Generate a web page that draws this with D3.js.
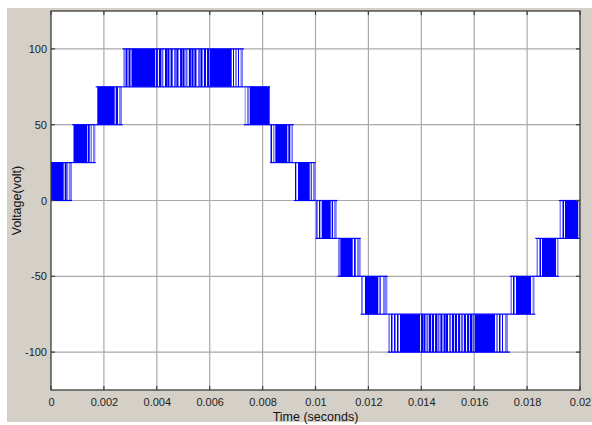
<!DOCTYPE html>
<html><head><meta charset="utf-8">
<script src="https://cdn.jsdelivr.net/npm/d3@7"></script>
<style>body{margin:0;background:#fff}svg{display:block}</style>
</head><body>
<script>
// ---- data (time in milliseconds, voltage in volts) ----
const xTicks = [0, 2, 4, 6, 8, 10, 12, 14, 16, 18, 20];
const xTickLabels = ["0", "0.002", "0.004", "0.006", "0.008", "0.01", "0.012", "0.014", "0.016", "0.018", "0.02"];
const yTicks = [-100, -50, 0, 50, 100];
const yTickLabels = ["-100", "-50", "0", "50", "100"];

const bandEdges = [0, 0.80, 1.69, 2.71, 7.29, 8.28, 9.18, 10.0, 10.83, 11.71, 12.73, 17.35, 18.31, 19.20, 20.0];
const bandLow  = [0, 25, 50, 75, 50, 25, 0, -25, -50, -75, -100, -75, -50, -25];
const bandHigh = [25, 50, 75, 100, 75, 50, 25, 0, -25, -50, -75, -50, -25, 0];

const bandSolid = [
  [[0, 0.480], [0.518, 0.594]],
  [[0.851, 1.372], [1.399, 1.463]],
  [[1.750, 2.408], [2.446, 2.533]],
  [[2.817, 2.892], [2.930, 3.006], [3.043, 3.932], [6.011, 6.832], [6.881, 6.919], [6.975, 7.013], [7.070, 7.108]],
  [[7.429, 7.467], [7.512, 8.268]],
  [[8.299, 8.355], [8.480, 8.934], [8.972, 9.047]],
  [[9.225, 9.274], [9.338, 9.781], [9.819, 9.856]],
  [[10.030, 10.076], [10.132, 10.181], [10.234, 10.575], [10.613, 10.662]],
  [[10.870, 10.907], [10.938, 11.406], [11.456, 11.520]],
  [[11.739, 11.777], [11.871, 12.374], [12.420, 12.465]],
  [[12.854, 12.911], [12.968, 13.025], [13.081, 13.138], [13.195, 13.951], [16.030, 16.786], [16.843, 16.881], [16.938, 16.994], [17.051, 17.089]],
  [[17.467, 17.524], [17.580, 18.147]],
  [[18.469, 18.526], [18.563, 19.093]],
  [[19.338, 19.395], [19.433, 19.924]]
];
const bandLight = [
  [[0.605, 0.643], [0.670, 0.794]],
  [[1.493, 1.550], [1.588, 1.675]],
  [[2.571, 2.684]],
  [[2.733, 2.798], [7.164, 7.259]],
  [[7.323, 7.361]],
  [[8.393, 8.450], [9.085, 9.149]],
  [[9.905, 9.993]],
  [[10.699, 10.802]],
  [[11.569, 11.709]],
  [[12.552, 12.715]],
  [[12.752, 12.817], [17.164, 17.278]],
  [[17.372, 17.429], [18.204, 18.280]],
  [[18.355, 18.412], [19.130, 19.187]],
  [[19.225, 19.282], [19.943, 20.0]]
];
const pulsesPositivePeak = [4.00, 4.12, 4.21, 4.35, 4.44, 4.56, 4.69, 4.78, 4.92, 5.01, 5.12, 5.25, 5.35, 5.46, 5.60, 5.69, 5.82, 5.94];
const pulsesNegativePeak = [14.03, 14.12, 14.23, 14.33, 14.44, 14.56, 14.65, 14.76, 14.88, 14.97, 15.09, 15.20, 15.31, 15.43, 15.54, 15.65, 15.77, 15.88, 15.97];

// ---- drawing ----
const W = 592, H = 425;
const L = 51, R = 580, T = 11, B = 390;
const svg = d3.select("body").append("svg").attr("width", W).attr("height", H);
svg.append("rect").attr("x", 7).attr("y", 8).attr("width", W - 7).attr("height", 414).attr("fill", "#d4d0c8");
svg.append("rect").attr("x", L).attr("y", T).attr("width", R - L).attr("height", B - T).attr("fill", "#fff");

const x = d3.scaleLinear().domain([0, 20]).range([L, R]);
const y = d3.scaleLinear().domain([-125, 125]).range([B, T]);

// grid
const grid = svg.append("g").attr("stroke", "#a9a9a9").attr("stroke-width", 1.2);
grid.selectAll(".gx").data(xTicks.slice(1, -1)).join("line")
  .attr("x1", d => x(d)).attr("x2", d => x(d)).attr("y1", T).attr("y2", B);
grid.selectAll(".gy").data(yTicks).join("line")
  .attr("x1", L).attr("x2", R).attr("y1", d => y(d)).attr("y2", d => y(d));

// waveform
const wave = svg.append("g");
const blue = "#0000ff";
bandLow.forEach((lo, i) => {
  const hi = bandHigh[i], t0 = bandEdges[i], t1 = bandEdges[i + 1];
  const g = wave.append("g");
  g.selectAll(".s").data(bandSolid[i]).join("rect")
    .attr("x", d => x(d[0])).attr("width", d => Math.max(1, x(d[1]) - x(d[0])))
    .attr("y", y(hi)).attr("height", y(lo) - y(hi)).attr("fill", blue);
  g.selectAll(".l").data(bandLight[i]).join("rect")
    .attr("x", d => x(d[0])).attr("width", d => Math.max(1, x(d[1]) - x(d[0])))
    .attr("y", y(hi)).attr("height", y(lo) - y(hi)).attr("fill", blue).attr("fill-opacity", 0.5);
  g.selectAll(".h").data([hi, lo]).join("line")
    .attr("x1", x(t0)).attr("x2", x(t1)).attr("y1", d => y(d)).attr("y2", d => y(d))
    .attr("stroke", blue).attr("stroke-width", 1.2);
});
function pulses(arr, lo, hi) {
  wave.append("g").selectAll("rect").data(arr).join("rect")
    .attr("x", d => x(d) - 1.05).attr("width", 2.1)
    .attr("y", y(hi)).attr("height", y(lo) - y(hi))
    .attr("fill", blue).attr("fill-opacity", (d, i) => i % 4 === 2 ? 0.65 : 1);
}
pulses(pulsesPositivePeak, 75, 100);
pulses(pulsesNegativePeak, -100, -75);

// border + tick marks
svg.append("rect").attr("x", L).attr("y", T).attr("width", R - L).attr("height", B - T)
  .attr("fill", "none").attr("stroke", "#3c3c3c").attr("stroke-width", 1.3);
const tk = svg.append("g").attr("stroke", "#3c3c3c").attr("stroke-width", 1.2);
xTicks.forEach(d => {
  tk.append("line").attr("x1", x(d)).attr("x2", x(d)).attr("y1", B).attr("y2", B - 4);
  tk.append("line").attr("x1", x(d)).attr("x2", x(d)).attr("y1", T).attr("y2", T + 4);
});
yTicks.forEach(d => {
  tk.append("line").attr("x1", L).attr("x2", L + 4).attr("y1", y(d)).attr("y2", y(d));
  tk.append("line").attr("x1", R).attr("x2", R - 4).attr("y1", y(d)).attr("y2", y(d));
});

// axes labels via d3 axes
const font = "'Liberation Sans', Arial, sans-serif";
const ax = svg.append("g").attr("transform", `translate(0,${B})`)
  .call(d3.axisBottom(x).tickValues(xTicks).tickSize(0).tickPadding(8)
    .tickFormat((d, i) => xTickLabels[i]));
const ay = svg.append("g").attr("transform", `translate(${L},0)`)
  .call(d3.axisLeft(y).tickValues(yTicks).tickSize(0).tickPadding(4)
    .tickFormat((d, i) => yTickLabels[i]));
[ax, ay].forEach(a => {
  a.select(".domain").remove();
  a.selectAll("text").attr("font-family", font).attr("font-size", 11).attr("fill", "#222");
});

svg.append("text").attr("x", (L + R) / 2).attr("y", 421).attr("text-anchor", "middle")
  .attr("font-family", font).attr("font-size", 12.5).attr("fill", "#111").text("Time (seconds)");
svg.append("text").attr("transform", `translate(21,${(T + B) / 2}) rotate(-90)`)
  .attr("text-anchor", "middle").attr("font-family", font).attr("font-size", 12.5)
  .attr("fill", "#111").text("Voltage(volt)");
</script>
</body></html>
